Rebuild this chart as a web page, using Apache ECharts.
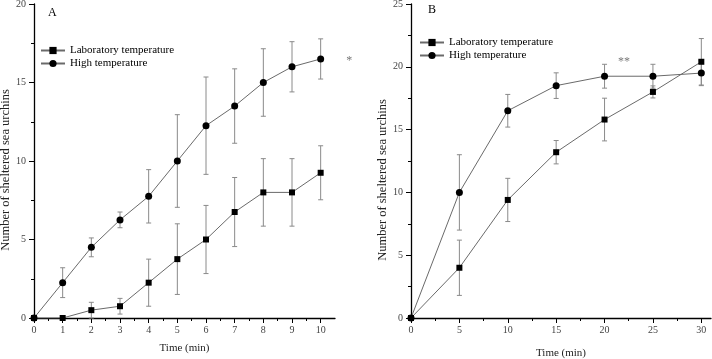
<!DOCTYPE html>
<html><head><meta charset="utf-8">
<script src="https://cdn.jsdelivr.net/npm/echarts@6/dist/echarts.min.js"></script>
<style>html,body{margin:0;padding:0;background:#fff}#c{width:712px;height:359px}</style>
</head><body><div id="c"></div>
<script>
var FONT = "'Liberation Serif','Times New Roman',serif";
// Panel A
var timeA = [0,1,2,3,4,5,6,7,8,9,10];
var labA = [0,0,0.5,0.75,2.25,3.75,5,6.75,8,8,9.25];
var labAErr = [0,0,0.5,0.5,1.5,2.25,2.17,2.2,2.15,2.15,1.72];
var highA = [0,2.25,4.5,6.25,7.75,10,12.25,13.5,15,16,16.5];
var highAErr = [0,0.95,0.6,0.5,1.7,2.95,3.1,2.37,2.15,1.6,1.28];
var xTicksA = [0,1,2,3,4,5,6,7,8,9,10];
var xMinorA = [0.5,1.5,2.5,3.5,4.5,5.5,6.5,7.5,8.5,9.5];
var starA = [[11,16.4,'*']];
// Panel B
var timeB = [0,5,10,15,20,25,30];
var labB = [0,4,9.4,13.2,15.8,18,20.4];
var labBErr = [0,2.2,1.72,0.93,1.7,0.48,1.85];
var highB = [0,10,16.5,18.5,19.25,19.25,19.5];
var highBErr = [0,3,1.3,1.02,0.95,0.95,1.0];
var xTicksB = [0,5,10,15,20,25,30];
var xMinorB = [2.5,7.5,12.5,17.5,22.5,27.5];
var starB = [[22,20.4,'**']];
var names = ['Laboratory temperature','High temperature'];

function pairs(xs, ys){ return xs.map(function(x,i){return [x, ys[i]];}); }
function errSeries(xs, ys, es, xi, yi){
  var d = [];
  xs.forEach(function(x,i){ if(es[i]>0) d.push([x, ys[i]-es[i], ys[i]+es[i]]); });
  return {type:'custom', xAxisIndex:xi, yAxisIndex:yi, silent:true, z:1, data:d,
    renderItem:function(p, api){
      var a = api.coord([api.value(0), api.value(1)]);
      var b = api.coord([api.value(0), api.value(2)]);
      var w = 2.5, st = {stroke:'#8a8a8a', lineWidth:1};
      return {type:'group', children:[
        {type:'line', shape:{x1:a[0],y1:a[1],x2:b[0],y2:b[1]}, style:st},
        {type:'line', shape:{x1:a[0]-w,y1:a[1],x2:a[0]+w,y2:a[1]}, style:st},
        {type:'line', shape:{x1:b[0]-w,y1:b[1],x2:b[0]+w,y2:b[1]}, style:st}
      ]};
    }};
}
function lineSeries(name, xs, ys, sym, size, xi, yi){
  return {type:'line', name:name, xAxisIndex:xi, yAxisIndex:yi, data:pairs(xs,ys),
    symbol:sym, symbolSize:size, showAllSymbol:true, z:3,
    lineStyle:{color:'#6a6a6a', width:1}, itemStyle:{color:'#000'}, animation:false};
}
function starSeries(d, xi, yi){
  return {type:'scatter', xAxisIndex:xi, yAxisIndex:yi, symbol:'circle', symbolSize:1, clip:false, silent:true,
    itemStyle:{color:'rgba(0,0,0,0)'},
    data:d, label:{show:true, formatter:function(p){return p.data[2];}, position:'inside',
    fontFamily:FONT, fontSize:12, color:'#555'}};
}
function mainX(gi, max, ticks, interval, gap){
  return {type:'value', gridIndex:gi, min:0, max:max, interval:interval,
    name:'Time (min)', nameLocation:'middle', nameGap:gap,
    nameTextStyle:{fontFamily:FONT, fontSize:11, color:'#222'},
    axisLine:{show:true, onZero:false, lineStyle:{color:'#000', width:1.3}},
    axisTick:{show:true, length:5, customValues:ticks, lineStyle:{color:'#000'}},
    axisLabel:{customValues:ticks, margin:7, fontFamily:FONT, fontSize:10, color:'#444'},
    splitLine:{show:false}};
}
function minorX(gi, max, vals){
  return {type:'value', gridIndex:gi, min:0, max:max, position:'bottom',
    axisLine:{show:false}, axisLabel:{show:false}, splitLine:{show:false},
    axisTick:{show:true, length:3, customValues:vals, lineStyle:{color:'#000'}}};
}
function yAx(gi, max, gap, shift){
  return {type:'value', gridIndex:gi, min:0, max:max, interval:5,
    name:'Number of sheltered sea urchins', nameLocation:'middle', nameGap:gap,
    nameTextStyle:{fontFamily:FONT, fontSize:12.5, color:'#222', padding:[0, shift, 0, 0]},
    axisLine:{show:true, lineStyle:{color:'#000', width:1.3}},
    axisTick:{show:true, length:5, lineStyle:{color:'#000'}},
    minorTick:{show:true, splitNumber:2, length:3, lineStyle:{color:'#000'}},
    axisLabel:{margin:8, fontFamily:FONT, fontSize:10, color:'#444'},
    splitLine:{show:false}};
}
var legendBase = {orient:'vertical', itemWidth:24, itemHeight:9, itemGap:2, padding:0,
  textStyle:{fontFamily:FONT, fontSize:11, color:'#000'}, data:names, selectedMode:false};

var chart = echarts.init(document.getElementById('c'), null, {renderer:'canvas'});
chart.setOption({
  animation:false,
  backgroundColor:'#fff',
  title:[
    {text:'A', left:43, top:2, textStyle:{fontFamily:FONT, fontSize:12, fontWeight:'normal', color:'#000'}},
    {text:'B', left:423, top:-1, textStyle:{fontFamily:FONT, fontSize:12, fontWeight:'normal', color:'#000'}}
  ],
  legend:[
    Object.assign({left:40, top:45}, legendBase),
    Object.assign({left:419, top:37}, legendBase)
  ],
  grid:[
    {left:34, right:377, top:4, bottom:41, outerBoundsMode:'none', containLabel:false},
    {left:411, right:1, top:4, bottom:41, outerBoundsMode:'none', containLabel:false}
  ],
  xAxis:[mainX(0,10.5,xTicksA,1,25), minorX(0,10.5,xMinorA), mainX(1,31,xTicksB,5,30), minorX(1,31,xMinorB)],
  yAxis:[yAx(0,20,16,18), yAx(1,25,22,38)],
  series:[
    errSeries(timeA, labA, labAErr, 0, 0),
    errSeries(timeA, highA, highAErr, 0, 0),
    lineSeries(names[0], timeA, labA, 'rect', 6, 0, 0),
    lineSeries(names[1], timeA, highA, 'circle', 7, 0, 0),
    starSeries(starA, 0, 0),
    errSeries(timeB, labB, labBErr, 2, 1),
    errSeries(timeB, highB, highBErr, 2, 1),
    lineSeries(names[0], timeB, labB, 'rect', 6, 2, 1),
    lineSeries(names[1], timeB, highB, 'circle', 7, 2, 1),
    starSeries(starB, 2, 1)
  ]
});
</script></body></html>
